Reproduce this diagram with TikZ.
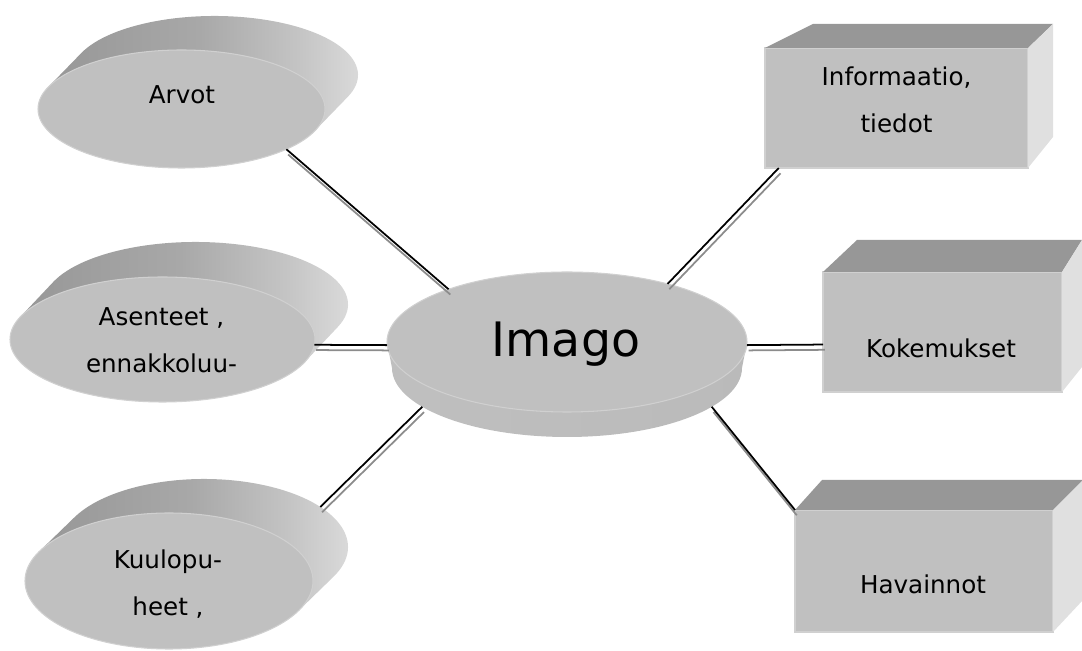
\documentclass[tikz,border=0pt]{standalone}
\usepackage{fontspec}
\setmainfont{DejaVu Sans}
\usepackage{tikz}
\usetikzlibrary{positioning, shapes.geometric, calc, backgrounds}
\usepackage{xcolor}

\definecolor{faceGray}{HTML}{C0C0C0}
\definecolor{rimGray}{HTML}{D0D0D0}
\definecolor{topGray}{HTML}{979797}
\definecolor{sideLight}{HTML}{E0E0E0}
\definecolor{sideDark}{HTML}{979797}
\definecolor{sideMid}{HTML}{A8A8A8}
\definecolor{sideSoft}{HTML}{C4C4C4}
\definecolor{linkGray}{HTML}{8C8C8C}

\pgfdeclarehorizontalshading{diskside}{100bp}{color(0bp)=(sideDark); color(25bp)=(sideDark); color(48bp)=(sideMid); color(63bp)=(sideSoft); color(75bp)=(sideLight); color(100bp)=(sideLight)}

\begin{document}
\begin{tikzpicture}[
    disk/.style={ellipse, fill=faceGray, draw=rimGray, line width=0.6pt, inner sep=0pt, outer sep=0pt},
    backdisk/.style={ellipse, inner sep=0pt, outer sep=0pt},
    block/.style={rectangle, fill=faceGray, draw=rimGray, line width=0.6pt, inner sep=0pt, outer sep=0pt},
    txt/.style={font=\fontsize{14}{27}\selectfont, align=center, inner sep=0pt},
    link/.style={line width=1pt, black},
    linkshadow/.style={line width=1pt, linkGray, transform canvas={shift={(1pt,-3pt)}}}
]
    \useasboundingbox (0,0) rectangle (21.64,13.02);

    % Disks on the left
    \node[disk, minimum width=5.74cm, minimum height=2.36cm] (arvot) at (3.63,10.84) {};
    \node[disk, minimum width=6.10cm, minimum height=2.50cm] (asenteet) at (3.25,6.23) {};
    \node[disk, minimum width=5.76cm, minimum height=2.72cm] (kuulo) at (3.38,1.40) {};
    \node[backdisk, minimum width=5.76cm, minimum height=2.72cm] (kuuloBack) at (4.08,2.08) {};

    % Centre disk
    \node[disk, minimum width=7.2cm, minimum height=2.8cm] (imago) at (11.34,6.18) {};
    \node[backdisk, minimum width=7.0cm, minimum height=2.76cm] (imagoBack) at (11.34,5.66) {};

    % Boxes on the right
    \node[block, minimum width=5.26cm, minimum height=2.40cm] (info) at (17.93,10.86) {};
    \node[block, minimum width=4.78cm, minimum height=2.40cm] (kokem) at (18.85,6.38) {};
    \node[block, minimum width=5.16cm, minimum height=2.44cm] (havain) at (18.48,1.60) {};

    \foreach \n/\l/\r/\d/\b in {info/0.96/0.50/0.48/0.62, kokem/0.68/0.40/0.64/0.50, havain/0.54/0.60/0.60/0.64} {
        \fill[topGray] (\n.north west) -- ++(\l,\d) -- ([shift={(\r,\d)}]\n.north east) -- (\n.north east) -- cycle;
        \fill[sideLight] (\n.north east) -- ++(\r,\d) -- ([shift={(\r,\b)}]\n.south east) -- (\n.south east) -- cycle;
    }

    % Sides of the disks
    \begin{pgfonlayer}{background}
        \shade[shading=diskside] ($(arvot.center)+(158.2:2.87cm and 1.18cm)$) -- ++(0.66,0.68)
            arc[start angle=158.2, end angle=-21.8, x radius=2.87cm, y radius=1.18cm] -- ++(-0.66,-0.68) -- cycle;
        \shade[shading=diskside] ($(asenteet.center)+(158.9:3.05cm and 1.25cm)$) -- ++(0.66,0.70)
            arc[start angle=158.9, end angle=-21.1, x radius=3.05cm, y radius=1.25cm] -- ++(-0.66,-0.70) -- cycle;
        \shade[shading=diskside] ($(kuulo.center)+(154.1:2.88cm and 1.36cm)$) -- ++(0.70,0.68)
            arc[start angle=154.1, end angle=-25.9, x radius=2.88cm, y radius=1.36cm] -- ++(-0.70,-0.68) -- cycle;
        \shade[left color=black!25, middle color=black!48, right color=black!27] (imago.west) -- (imagoBack.west)
            arc[start angle=180, end angle=360, x radius=3.5cm, y radius=1.38cm] -- (imago.east) -- cycle;
    \end{pgfonlayer}

    % Texts
    \node[txt, anchor=base] (arvotText) at (3.64,10.94) {Arvot};
    \node[txt, anchor=base] (asenteetText) at (3.23,5.56) {Asenteet ,\\ennakkoluu-};
    \node[txt, anchor=base] (kuuloText) at (3.36,0.70) {Kuulopu-\\heet ,};
    \node[txt, anchor=base, font=\fontsize{27}{30}\selectfont] (imagoText) at (11.32,5.88) {Imago};
    \node[txt, anchor=base] (infoText) at (17.93,10.36) {Informaatio,\\tiedot};
    \node[txt, anchor=base] (kokemText) at (18.82,5.86) {Kokemukset};
    \node[txt, anchor=base] (havainText) at (18.46,1.14) {Havainnot};

    % Connectors
    \foreach \a/\b in {arvot.-21/imago.156, asenteet.-2/imago.181, kuuloBack.19/imagoBack.195,
                       imago.30/info.207, imago.-1/kokem.186, imagoBack.-15/havain.north west} {
        \draw[linkshadow] (\a) -- (\b);
        \draw[link] (\a) -- (\b);
    }
\end{tikzpicture}
\end{document}
